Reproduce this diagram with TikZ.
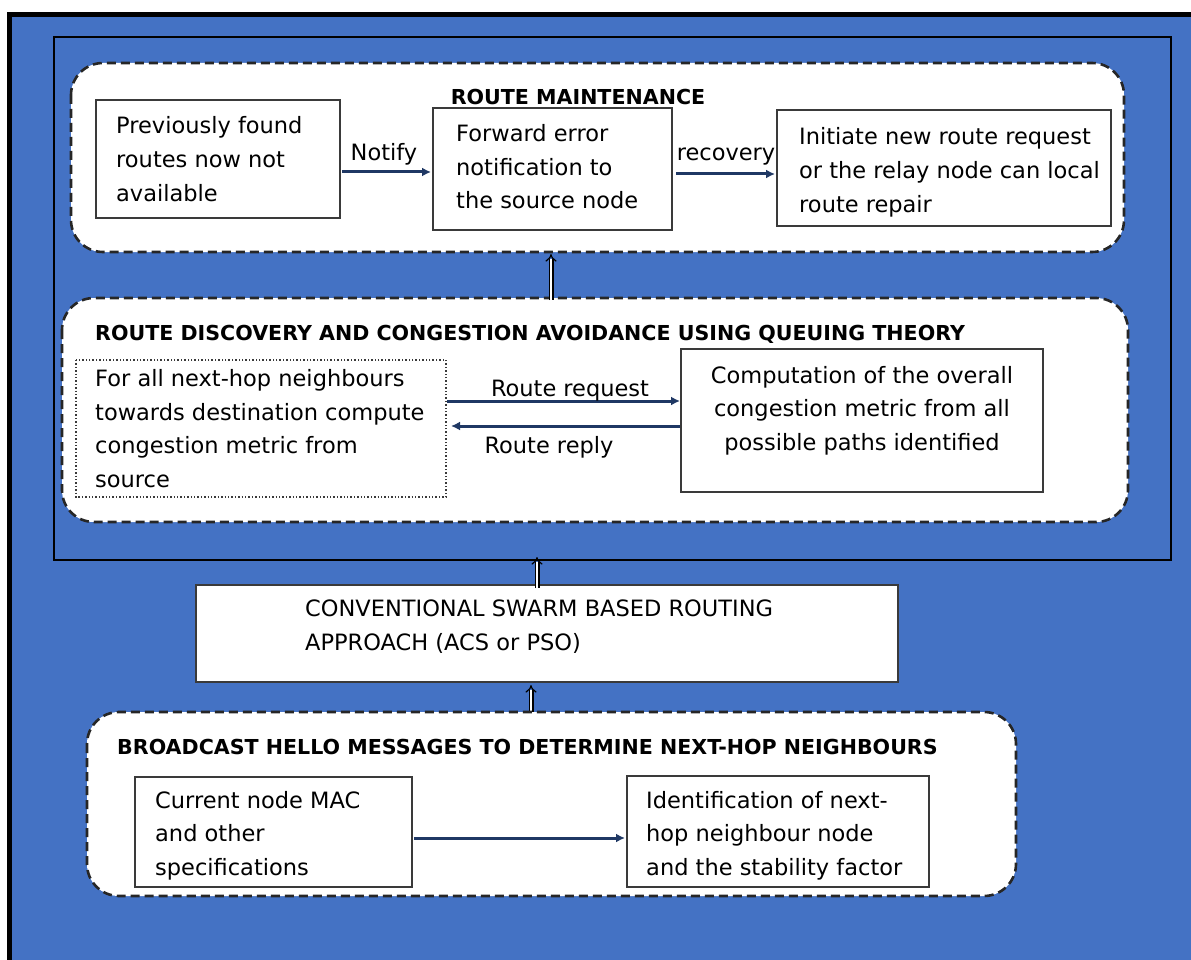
\documentclass[tikz,border=0pt]{standalone}
\usepackage{fontspec}
\setmainfont{DejaVu Sans}
\usetikzlibrary{arrows.meta}
\definecolor{panelblue}{HTML}{4472C4}
\definecolor{arrownavy}{HTML}{1F3864}
\definecolor{boxline}{HTML}{3A3A3A}
\tikzset{
  body/.style={font=\fontsize{22.5}{33.5}\selectfont, inner sep=0pt, align=left, text=black},
  headline/.style={font=\bfseries\fontsize{20.6}{24}\selectfont, inner sep=0pt, text=black},
  stagebox/.style={draw=boxline, line width=1.6pt, fill=white},
  groupbox/.style={draw=black!85, line width=2.6pt, dash pattern=on 9pt off 5pt, fill=white, rounded corners=32pt},
  flow/.style={draw=arrownavy, line width=3pt, -{Latex[length=9pt,width=9pt]}},
  link/.style={double, double distance=2.6pt, line width=1.2pt, draw=black, -{Implies}},
}
\begin{document}
\begin{tikzpicture}[x=1pt,y=-1pt]
\useasboundingbox (0,0) rectangle (1191,960);
\fill[white] (0,0) rectangle (1191,960);
\begin{scope}
\clip (0,0) rectangle (1191,960);
\draw[fill=panelblue, draw=black, line width=5pt] (9.5,14.5) rectangle (1220,990);
\end{scope}
% frame around the two upper stages
\draw[black, line width=1.4pt] (54,37) rectangle (1171,560);

% ---------- route maintenance ----------
\path[groupbox] (71,63) rectangle (1124,252);
\node[headline, anchor=base] (rmhead) at (578,105) {ROUTE MAINTENANCE};
\path[stagebox] (96,100) rectangle (340,218);
\coordinate (aE) at (342,172);
\node[body, anchor=base west] (lost) at (116,201) {Previously found\\routes now not\\available};
\path[stagebox] (433,108) rectangle (672,230);
\coordinate (bW) at (431,172); \coordinate (bE) at (676,174);
\node[body, anchor=base west] (notice) at (456,209) {Forward error\\notification to\\the source node};
\path[stagebox] (777,110) rectangle (1111,226);
\coordinate (cW) at (775,174);
\node[body, anchor=base west] (renew) at (799,212) {Initiate new route request\\or the relay node can local\\route repair};
\draw[flow] (aE) -- (bW);
\node[body, anchor=base] (notifylbl) at (384,161) {Notify};
\draw[flow] (bE) -- (cW);
\node[body, anchor=base] (recoverylbl) at (726,161) {recovery};

% ---------- route discovery ----------
\path[groupbox] (62,298) rectangle (1128,522);
\node[headline, anchor=base west] (rdhead) at (95,340) {ROUTE DISCOVERY AND CONGESTION AVOIDANCE USING QUEUING THEORY};
\draw[boxline, line width=1.4pt, dotted, fill=white] (76,360) rectangle (446,497);
\node[body, anchor=base west] (local) at (95,487) {For all next-hop neighbours\\towards destination compute\\congestion metric from\\source};
\path[stagebox] (681,349) rectangle (1043,492);
\node[body, align=center, anchor=base] (overall) at (862,450) {Computation of the overall\\congestion metric from all\\possible paths identified};
\coordinate (dE1) at (447,401); \coordinate (eW1) at (680,401);
\coordinate (dE2) at (451,426); \coordinate (eW2) at (680,426);
\draw[flow] (dE1) -- (eW1);
\node[body, anchor=base] (req) at (570,396) {Route request};
\draw[flow] (eW2) -- (dE2);
\node[body, anchor=base] (rep) at (549,453) {Route reply};

% links between stages
\coordinate (l1a) at (551,300); \coordinate (l1b) at (551,254);
\draw[link] (l1a) -- (l1b);

% ---------- swarm routing ----------
\path[stagebox] (196,585) rectangle (898,682);
\node[body, anchor=base west] (swarm) at (305,650) {CONVENTIONAL SWARM BASED ROUTING\\APPROACH (ACS or PSO)};
\coordinate (l2a) at (537,588); \coordinate (l2b) at (537,557);
\draw[link] (l2a) -- (l2b);
\coordinate (l3a) at (531,714); \coordinate (l3b) at (531,685);
\draw[link] (l3a) -- (l3b);

% ---------- hello broadcast ----------
\path[groupbox] (87,712) rectangle (1016,896);
\node[headline, anchor=base west] (bhhead) at (117,754) {BROADCAST HELLO MESSAGES TO DETERMINE NEXT-HOP NEIGHBOURS};
\path[stagebox] (135,777) rectangle (412,887);
\node[body, anchor=base west] (mac) at (155,875) {Current node MAC\\and other\\specifications};
\path[stagebox] (627,776) rectangle (929,887);
\node[body, anchor=base west] (ident) at (646,875) {Identification of next-\\hop neighbour node\\and the stability factor};
\coordinate (fE) at (414,838); \coordinate (gW) at (625,838);
\draw[flow] (fE) -- (gW);
\end{tikzpicture}
\end{document}
